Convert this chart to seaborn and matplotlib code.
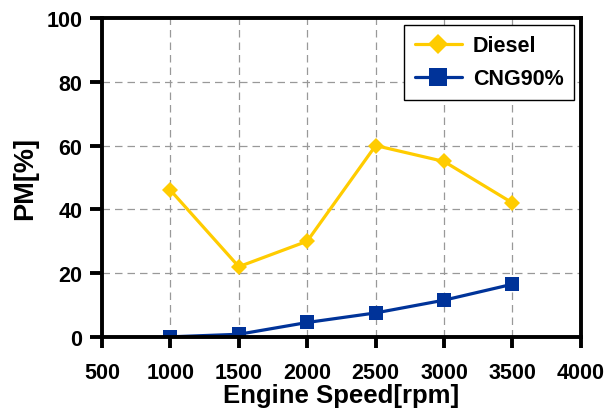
import matplotlib
matplotlib.use('Agg')
import matplotlib.pyplot as plt
import seaborn as sns
import pandas as pd

# Данные с графика
speed = [1000, 1500, 2000, 2500, 3000, 3500]
diesel = [46, 22, 30, 60, 55, 42]
cng90 = [0, 0.8, 4.5, 7.5, 11.5, 16.5]
x_ticks = [500, 1000, 1500, 2000, 2500, 3000, 3500, 4000]
y_ticks = [0, 20, 40, 60, 80, 100]

sns.set_style('white')
plt.rcParams['font.family'] = ['Liberation Sans', 'DejaVu Sans']
plt.rcParams['font.weight'] = 'bold'
plt.rcParams['text.color'] = 'black'
plt.rcParams['axes.labelcolor'] = 'black'
plt.rcParams['xtick.color'] = 'black'
plt.rcParams['ytick.color'] = 'black'

df = pd.DataFrame({'speed': speed, 'Diesel': diesel, 'CNG90%': cng90})

fig = plt.figure(figsize=(6.07, 4.14), dpi=100)
ax = fig.add_axes([0.168, 0.184, 0.789, 0.770])

sns.lineplot(data=df, x='speed', y='Diesel', ax=ax, color='#FFCC00', marker='D',
             markersize=8.5, linewidth=2.3, markeredgewidth=0, label='Diesel')
sns.lineplot(data=df, x='speed', y='CNG90%', ax=ax, color='#003399', marker='s',
             markersize=10.5, linewidth=2.3, markeredgewidth=0, label='CNG90%')

ax.set_xlim(500, 4000)
ax.set_ylim(0, 100)
ax.set_xticks(x_ticks, labels=[str(v) for v in x_ticks], fontweight='bold', fontsize=15.5)
ax.set_yticks(y_ticks, labels=[str(v) for v in y_ticks], fontweight='bold', fontsize=15.5)
ax.grid(True, linestyle=(0, (6, 4)), color='#999999', linewidth=0.9)
ax.set_axisbelow(True)

for s in ax.spines.values():
    s.set_linewidth(2.8)
    s.set_color('black')

ax.tick_params(axis='x', direction='out', length=8, width=2.8, pad=10)
ax.tick_params(axis='y', direction='out', length=9, width=2.8, pad=5)
ax.tick_params(bottom=True, left=True)

ax.set_xlabel('Engine Speed[rpm]', fontsize=18.5, fontweight='bold', labelpad=0)
ax.set_ylabel('PM[%]', fontsize=19.5, fontweight='bold', labelpad=6)

leg = ax.legend(loc='upper right', fontsize=15.5, frameon=True, fancybox=False,
                bbox_to_anchor=(1.0, 1.0), borderaxespad=0.3, borderpad=0.5,
                handlelength=2.2, handletextpad=0.5, labelspacing=0.55,
                markerscale=1.25)
leg.get_frame().set_edgecolor('black')
leg.get_frame().set_linewidth(1.0)
leg.get_frame().set_alpha(1)
for t in leg.get_texts():
    t.set_fontweight('bold')

fig.savefig('out.png', dpi=100)
